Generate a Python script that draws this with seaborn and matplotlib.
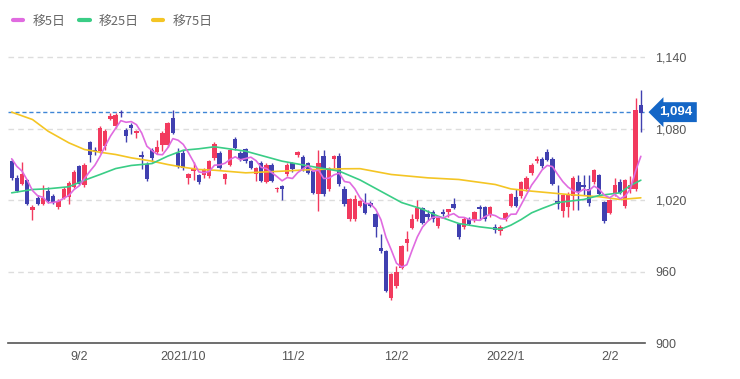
import numpy as np
import pandas as pd
import matplotlib
matplotlib.use("Agg")
import matplotlib.pyplot as plt
import seaborn as sns
from matplotlib.lines import Line2D

# ---------------- data ----------------
opens = [1053,1039,1034,1037,1011.6,1022,1017,1028,1023.5,1014.5,
         1022,1023,1031,1048.6,1033,1068.7,1062.6,1061.2,1065.4,1088.4,
         1082.5,1094.5,1079,1083.6,1076.6,1057.6,1050.8,1062.6,1060.3,1066.8,
         1066.8,1089.2,1060,1059.8,1038.8,1044.4,1040.8,1040.8,1040.2,1055.6,
         1059.8,1037.4,1050,1071.6,1059.8,1063.2,1052.8,1041.6,1051.4,1035.5,
         1050,1029,1031.8,1041.6,1051.4,1057.7,1056.3,1051.4,1044.4,1024.8,
         1057,1029,1054.8,1057,1029,1003.8,1003.8,1015,1017.8,1017.8,
         1008,980,977.1,938,947.8,963.2,984.2,996.8,1003.8,1013.6,
         1008,1010,998.7,1010,1010,1017.2,1000.2,997.4,1004.4,1003.3,
         1014.4,1014.4,1007.2,997.6,994.2,1003.8,1015,1022.9,1023.4,1029,
         1043,1052.8,1054.5,1060.3,1054.8,1019.2,1010.8,1014.5,1023.4,1035.1,
         1033,1029.6,1035.1,1040.8,1018.3,1009.4,1024.8,1035.1,1015,1029.6,
         1029,1099.6]
closes = [1039,1028,1042,1017,1014.5,1017,1022,1019,1018,1019.7,
          1029,1034.6,1043.5,1034,1050,1058.4,1061.2,1080.8,1078,1091,
          1091.5,1093,1074,1080.8,1078,1056.6,1037.4,1055.6,1064.9,1076.6,
          1085,1076.6,1049,1047.2,1041.6,1045.8,1035.1,1045.8,1052.8,1067.6,
          1047.2,1041.6,1062,1064,1054.8,1052.8,1047.2,1047.2,1036,1050,
          1036,1030.4,1029,1050,1045.8,1060.5,1045.8,1043,1026.2,1051.4,
          1024.8,1047.2,1057,1033.2,1016.4,1020.6,1020.6,1019.2,1009.4,1015.5,
          997.6,977.1,943.5,957.6,959.5,981.4,987,1003.8,1013.6,1001,
          1006,1003.8,1005.2,1008.8,1012.2,1013.6,988.7,1004.4,1000.2,1010,
          1012.2,1003.8,1014.4,994.8,997.6,1009.4,1024.8,1015,1035.1,1038.8,
          1050,1054.5,1048.6,1054.2,1034,1017.2,1024,1025.6,1038.8,1026.7,
          1030.9,1017.8,1045.2,1024.8,1002.4,1020,1032.4,1026.2,1036.8,1032.4,
          1095.6,1093.4]
highs = [1055,1041,1052,1038,1016,1024,1033,1031,1025,1021,
         1031,1036,1045,1050,1051,1070,1065,1082,1080,1093,
         1093,1096,1081,1085,1079,1061,1052,1064,1071,1078,
         1086,1096,1064,1062,1043,1052,1042,1047,1054,1068.5,
         1061,1043,1063,1073,1061,1064,1054,1048,1053,1051,
         1051.5,1031.5,1033,1051,1052,1061.5,1058,1052,1045.5,1062.6,
         1062,1048,1058,1060,1032,1021.5,1024,1020,1026,1019,
         1009,992,978,958.5,965,982.5,994,1008,1020.5,1014.5,
         1012,1012,1006,1012.5,1013,1021.5,1001,1005.5,1005.5,1011,
         1016,1015.5,1015.5,1000,999,1010.5,1026,1029,1036,1040,
         1051,1057,1056,1063,1056,1032.4,1025,1026.5,1040,1041,
         1041,1041.5,1046,1042,1019.5,1021,1039,1038,1038,1040,
         1106,1113]
lows = [1037,1027,1033,1016,1003,1016,1016,1018,1017,1013,
        1021,1017,1030,1033,1031,1052,1058,1060,1062,1087,
        1081,1090,1069,1076,1072,1046,1036.5,1052,1059,1061,
        1065,1075.5,1047,1045,1034,1037,1034,1039,1039,1054,
        1046,1034,1049,1062.5,1053,1051,1046,1036,1035,1034.5,
        1035,1027,1020,1040,1044,1056.5,1044.5,1042,1025,1010.8,
        1023.5,1028,1047,1032,1015,1002.5,1002.5,1014,1008,1014,
        989,976,942.5,936.5,946.5,962,977,995.5,1002.5,1000,
        1003,1002,997,1007,1006,1012.5,987.5,996,999,1002,
        1003,1002.5,1006,992.5,991,1002.5,1014,1014,1022,1028,
        1041,1051.5,1047,1053,1033,1012.2,1006,1006,1012,1012,
        1024,1015,1034,1023.5,1001,1008,1023.5,1025,1013.5,1026,
        1028,1077]
pre_closes = [1060, 1062, 1055, 1058]   # closes before the visible window (for MA5)

ma25_idx = [0, 4, 7, 11, 14, 17, 20, 23, 27, 30, 33, 36, 39, 45, 52, 58, 63, 67,
            71, 75, 79, 82, 86, 90, 94, 96, 98, 100, 102, 105, 110, 113, 117, 119, 121]
ma25_val = [1026.2, 1029, 1029.6, 1031.3, 1036.8, 1041.6, 1046.6, 1049.2, 1050.8, 1057,
            1062, 1063.2, 1064.9, 1061.2, 1052.8, 1048.1, 1044.4, 1037, 1027.5, 1018,
            1012.5, 1006.6, 1000.4, 997.6, 995.5, 999, 1003.8, 1009.4, 1013, 1018,
            1020.6, 1024, 1026.2, 1032.4, 1036.8]
ma75_idx = [0, 4, 7, 11, 14, 17, 20, 23, 27, 30, 33, 36, 39, 45, 52, 58, 64, 67,
            73, 80, 86, 93, 96, 100, 107, 113, 117, 121]
ma75_val = [1094, 1087.8, 1078, 1068.2, 1062.6, 1060.3, 1058.4, 1055.6, 1052.8, 1050,
            1047.7, 1045.8, 1045.2, 1043, 1044.4, 1045.8, 1046.4, 1046.5, 1041.6, 1038.8,
            1037.4, 1033.2, 1029.5, 1027.6, 1024.8, 1022.9, 1020.6, 1022]

tick_idx = [13, 33, 54, 74, 95, 115]
tick_labels = ["9/2", "2021/10", "11/2", "12/2", "2022/1", "2/2"]
y_ticks = [900, 960, 1020, 1080, 1140]
last_price = 1094
legend_labels = ["移5日", "移25日", "移75日"]

# ---------------- style ----------------
sns.set_theme(style="white")
plt.rcParams['font.family'] = ['Liberation Sans', 'Noto Sans CJK JP', 'DejaVu Sans']

C_UP = '#f23a5e'
C_DN = '#4040b0'
C_MA5 = '#e06be0'
C_MA25 = '#3acd86'
C_MA75 = '#f4c524'
TXT = '#555555'

W, H = 740, 379
fig = plt.figure(figsize=(W / 100, H / 100), dpi=100)
ax = fig.add_axes([8 / W, (H - 343) / H, (645 - 8) / W, (343 - 45.5) / H])

df = pd.DataFrame({"open": opens, "close": closes, "high": highs, "low": lows})
df["idx"] = np.arange(len(df))
up = df["close"] >= df["open"]
colors = np.where(up, C_UP, C_DN)

# grid
for v in y_ticks[1:]:
    ax.axhline(v, color='#dddddd', lw=1, ls=(0, (4, 3)), zorder=0)

# wicks & bodies
ax.vlines(df["idx"], df["low"], df["high"], colors=colors, lw=1.0, zorder=2)
body_lo = np.minimum(df["open"], df["close"])
body_h = np.maximum(np.abs(df["close"] - df["open"]), 1.2)
ax.bar(df["idx"], body_h, bottom=body_lo, width=0.84, color=colors, linewidth=0, zorder=2)

# moving averages
all_close = pd.Series(pre_closes + closes)
ma5 = all_close.rolling(5).mean().iloc[len(pre_closes):].to_numpy()
ma5_df = pd.DataFrame({"idx": df["idx"], "v": ma5})
ma25_df = pd.DataFrame({"idx": ma25_idx, "v": ma25_val})
ma75_df = pd.DataFrame({"idx": ma75_idx, "v": ma75_val})
sns.lineplot(data=ma75_df, x="idx", y="v", ax=ax, color=C_MA75, lw=1.2, zorder=3)
sns.lineplot(data=ma25_df, x="idx", y="v", ax=ax, color=C_MA25, lw=1.2, zorder=3)
sns.lineplot(data=ma5_df, x="idx", y="v", ax=ax, color=C_MA5, lw=1.2, zorder=3)

# last price line
ax.axhline(last_price, color='#3f86d6', lw=1, ls=(0, (3, 2)), zorder=1)

ax.set_xlim(-0.71, 121.8)
ax.set_ylim(900, 1150)
ax.set_xlabel("")
ax.set_ylabel("")
for s in ["top", "left", "right"]:
    ax.spines[s].set_visible(False)
ax.spines["bottom"].set_color('#555555')
ax.spines["bottom"].set_linewidth(1.2)

ax.set_xticks(tick_idx)
ax.set_xticklabels(tick_labels)
ax.yaxis.tick_right()
ax.set_yticks(y_ticks)
ax.set_yticklabels([f"{v:,}" for v in y_ticks])
ax.tick_params(axis='x', length=0, pad=6, labelsize=9, labelcolor=TXT)
ax.tick_params(axis='y', length=0, pad=7.5, labelsize=9, labelcolor=TXT)

# price tag
ax.annotate(f"{last_price:,}", xy=(1.0, last_price), xycoords=('axes fraction', 'data'),
            xytext=(10.5, 0), textcoords='offset points', va='center', ha='left',
            color='white', fontsize=9.5, fontweight='bold', annotation_clip=False,
            bbox=dict(boxstyle='larrow,pad=0.3', fc='#1466c6', ec='none'))

# legend
handles = [Line2D([], [], color=c, lw=3) for c in (C_MA5, C_MA25, C_MA75)]
fig.legend(handles, legend_labels, loc='center left', bbox_to_anchor=(13 / W, 1 - 21.5 / H),
           ncol=3, frameon=False, handlelength=0.8, handletextpad=0.7, columnspacing=1.1,
           borderpad=0, borderaxespad=0,
           prop={'family': ['Noto Sans CJK JP'], 'size': 9.3}, labelcolor='#666666')

fig.savefig("out.png", dpi=100)
